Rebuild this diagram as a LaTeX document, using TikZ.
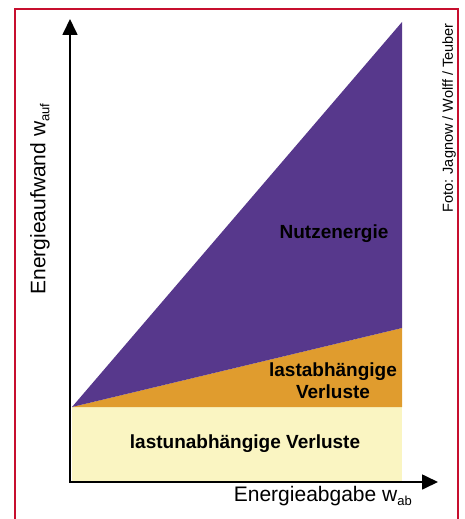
\documentclass[tikz,border=0pt]{standalone}
\usepackage{fontspec}
\setmainfont{Liberation Sans}
\usetikzlibrary{arrows.meta}
\newcommand{\lowtext}[1]{\raisebox{-0.35ex}{\fontsize{13}{13}\selectfont #1}}
\begin{document}
\begin{tikzpicture}[x=1pt,y=-1pt,
    lbl/.style={font=\fontsize{19}{22}\selectfont\bfseries,align=center,inner sep=0pt},
    axlbl/.style={font=\fontsize{21}{24}\selectfont,inner sep=0pt},
    axis/.style={line width=1.7pt,-{Triangle[length=16pt,width=15pt]}}]
	\definecolor{cframe}{rgb}{0.78,0.06,0.18}
	\definecolor{cnutz}{rgb}{0.34,0.22,0.55}
	\definecolor{clast}{rgb}{0.88,0.61,0.18}
	\definecolor{cfix}{rgb}{0.98,0.96,0.76}
	%
	\useasboundingbox (0,0) rectangle (464,519);
	\draw[cframe,line width=2pt] (15,519) -- (15,9) -- (458,9) -- (458,519);
	%
	\coordinate (p0) at (72,407);
	\coordinate (p1) at (402,407);
	\coordinate (p2) at (402,328);
	\coordinate (p3) at (402,22);
	\coordinate (p4) at (402,482);
	\coordinate (p5) at (72,482);
	\fill[cfix] (p0) -- (p1) -- (p4) -- (p5) -- cycle;
	\fill[clast] (p0) -- (p2) -- (p1) -- cycle;
	\fill[cnutz] (p0) -- (p3) -- (p2) -- cycle;
	%
	\coordinate (org) at (70,482);
	\coordinate (ytip) at (70,19);
	\coordinate (xtip) at (438,482);
	\draw[axis] (org) -- (ytip);
	\draw[axis] ([xshift=-0.85pt]org) -- (xtip);
	%
	\node[lbl] (nutz) at (334,234) {Nutzenergie};
	\node[lbl] (last) at (333,381) {lastabhängige\\Verluste};
	\node[lbl] (fix) at (245,444) {lastunabhängige Verluste};
	\node[axlbl,anchor=east] (xlbl) at (412,496) {Energieabgabe w\lowtext{ab}};
	\node[axlbl,rotate=90] (ylbl) at (40,199) {Energieaufwand w\lowtext{auf}};
	\node[font=\fontsize{14.5}{16}\selectfont,rotate=90,inner sep=0pt] (foto) at (449,118) {Foto: Jagnow / Wolff / Teuber};
	%
\end{tikzpicture}
\end{document}
